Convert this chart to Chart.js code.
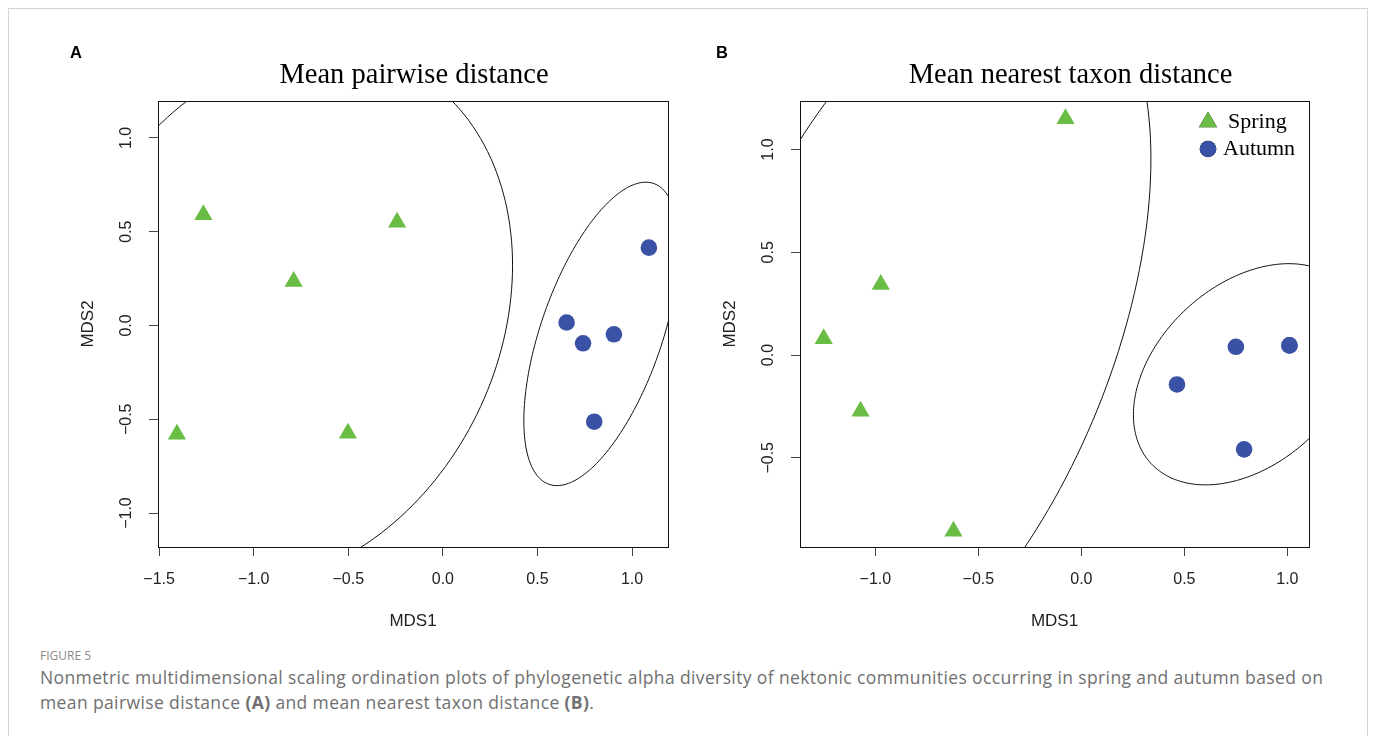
<!DOCTYPE html>
<html lang="en">
<head>
<meta charset="UTF-8">
<title>Figure 5 - NMDS ordination</title>
<style>
  body {
    margin: 0;
    width: 1375px;
    height: 736px;
    overflow: hidden;
    position: relative;
    background: #fff;
  }
  .frame {
    position: absolute;
    left: 8px;
    top: 8px;
    width: 1358px;
    height: 800px;
    border: 1px solid #d4d4d4;
  }
  canvas { position: absolute; top: 0; }
  #chartA { left: 0; }
  #chartB { left: 690px; }
  .fig-label {
    position: absolute;
    left: 40px;
    top: 647px;
    font-family: 'Open Sans', sans-serif;
    font-size: 12px;
    color: #8a8a8a;
  }
  .caption {
    position: absolute;
    left: 40px;
    top: 665px;
    font-family: 'Open Sans', sans-serif;
    font-size: 17.5px;
    letter-spacing: 0.38px;
    line-height: 25px;
    color: #707070;
    white-space: nowrap;
  }
  .caption b { color: #707070; }
</style>
</head>
<body>
<div class="frame"></div>
<canvas id="chartA" width="690" height="640"></canvas>
<canvas id="chartB" width="685" height="640"></canvas>
<div class="fig-label">FIGURE 5</div>
<div class="caption">Nonmetric multidimensional scaling ordination plots of phylogenetic alpha diversity of nektonic communities occurring in spring and autumn based on<br>mean pairwise distance <b>(A)</b> and mean nearest taxon distance <b>(B)</b>.</div>

<script src="https://cdn.jsdelivr.net/npm/chart.js"></script>
<script>
// ---- data (NMDS site scores) ----
// Panel A: mean pairwise distance
const springA_x = [-1.266, -0.789, -0.242, -1.406, -0.502];
const springA_y = [0.590, 0.235, 0.550, -0.580, -0.575];
const autumnA_x = [1.089, 0.654, 0.741, 0.904, 0.800];
const autumnA_y = [0.415, 0.016, -0.095, -0.047, -0.513];

// Panel B: mean nearest taxon distance
// (two autumn sites sit on top of each other at ~(1.01, 0.05))
const springB_x = [-0.077, -0.974, -1.251, -1.072, -0.621];
const springB_y = [1.150, 0.343, 0.079, -0.273, -0.857];
const autumnB_x = [0.464, 0.750, 1.010, 1.010, 0.790];
const autumnB_y = [-0.143, 0.040, 0.047, 0.047, -0.459];

const xTicksA = [-1.5, -1.0, -0.5, 0.0, 0.5, 1.0];
const yTicksA = [-1.0, -0.5, 0.0, 0.5, 1.0];
const xTicksB = [-1.0, -0.5, 0.0, 0.5, 1.0];
const yTicksB = [-0.5, 0.0, 0.5, 1.0];

const seasons = ['Spring', 'Autumn'];

const GREEN = '#69bd45';
const BLUE = '#3a52a5';
const SANS = "'Liberation Sans', Arial, sans-serif";
const SERIF = "'Liberation Serif', 'Times New Roman', serif";

// 95% sd ellipse, like vegan::ordiellipse(kind = "sd", conf = 0.95)
const CHI_SCALE = Math.sqrt(-2 * Math.log(1 - 0.95));

function toPoints(xs, ys) {
  return xs.map((x, i) => ({ x: x, y: ys[i] }));
}

function fmt(v) {
  return v.toFixed(1).replace('-', '\u2212');
}

function ellipsePath(pts) {
  const n = pts.length;
  const mx = pts.reduce((s, p) => s + p.x, 0) / n;
  const my = pts.reduce((s, p) => s + p.y, 0) / n;
  let sxx = 0, syy = 0, sxy = 0;
  pts.forEach(p => {
    sxx += (p.x - mx) ** 2;
    syy += (p.y - my) ** 2;
    sxy += (p.x - mx) * (p.y - my);
  });
  sxx /= n - 1; syy /= n - 1; sxy /= n - 1;
  // cholesky
  const a = Math.sqrt(sxx);
  const b = sxy / a;
  const c = Math.sqrt(syy - b * b);
  const out = [];
  for (let i = 0; i <= 200; i++) {
    const t = i / 200 * 2 * Math.PI;
    const u = Math.cos(t), v = Math.sin(t);
    out.push({ x: mx + CHI_SCALE * u * a, y: my + CHI_SCALE * (u * b + v * c) });
  }
  return out;
}

const ellipsePlugin = {
  id: 'ellipses',
  beforeDatasetsDraw(chart) {
    const { ctx, chartArea, scales } = chart;
    ctx.save();
    ctx.beginPath();
    ctx.rect(chartArea.left, chartArea.top, chartArea.width, chartArea.height);
    ctx.clip();
    ctx.strokeStyle = '#111';
    ctx.lineWidth = 1;
    chart.data.datasets.forEach(ds => {
      const path = ellipsePath(ds.data);
      ctx.beginPath();
      path.forEach((p, i) => {
        const px = scales.x.getPixelForValue(p.x);
        const py = scales.y.getPixelForValue(p.y);
        if (i === 0) ctx.moveTo(px, py); else ctx.lineTo(px, py);
      });
      ctx.stroke();
    });
    ctx.restore();
  }
};

// box, rotated y tick labels, axis titles, main title, panel letter
const decorPlugin = {
  id: 'decor',
  afterDraw(chart, args, opts) {
    const { ctx, chartArea, scales } = chart;
    ctx.save();
    ctx.strokeStyle = '#111';
    ctx.lineWidth = 1;
    ctx.strokeRect(Math.round(chartArea.left) + 0.5, Math.round(chartArea.top) + 0.5,
      Math.round(chartArea.width), Math.round(chartArea.height));

    ctx.fillStyle = '#222';
    ctx.font = '16px ' + SANS;
    ctx.textAlign = 'center';
    ctx.textBaseline = 'middle';
    scales.y.ticks.forEach(t => {
      const py = scales.y.getPixelForValue(t.value);
      ctx.save();
      ctx.translate(chartArea.left - 31, py);
      ctx.rotate(-Math.PI / 2);
      ctx.fillText(fmt(t.value), 0, 0);
      ctx.restore();
    });

    ctx.font = '17px ' + SANS;
    ctx.fillText('MDS1', (chartArea.left + chartArea.right) / 2, chartArea.bottom + 74);
    ctx.save();
    ctx.translate(chartArea.left - 70, (chartArea.top + chartArea.bottom) / 2);
    ctx.rotate(-Math.PI / 2);
    ctx.fillText('MDS2', 0, 0);
    ctx.restore();

    ctx.fillStyle = '#000';
    ctx.font = '28.5px ' + SERIF;
    ctx.textBaseline = 'alphabetic';
    ctx.fillText(opts.title, (chartArea.left + chartArea.right) / 2 + opts.titleShift, 83);

    ctx.font = 'bold 16.5px ' + SANS;
    ctx.textAlign = 'left';
    ctx.fillText(opts.letter, opts.letterX, 58);
    ctx.restore();
  }
};

const legendPlugin = {
  id: 'seasonLegend',
  afterDraw(chart, args, opts) {
    if (!opts.show) return;
    const { ctx, chartArea } = chart;
    ctx.save();
    ctx.font = '22px ' + SERIF;
    ctx.textBaseline = 'middle';
    ctx.textAlign = 'left';
    ctx.fillStyle = '#000';
    chart.data.datasets.forEach((ds, i) => {
      const y = chartArea.top + 21 + i * 27;
      const x = chartArea.right - 101;
      Chart.helpers.drawPoint(ctx, {
        pointStyle: ds.pointStyle, radius: ds.pointRadius, rotation: 0, borderWidth: 0
      }, x, y);
      ctx.fillStyle = ds.backgroundColor;
      ctx.fill();
      ctx.fillStyle = '#000';
      ctx.fillText(ds.label, x + (i === 0 ? 20 : 15), y);
    });
    ctx.restore();
  }
};

function makeChart(id, cfg) {
  const datasets = [
    {
      label: seasons[0],
      data: toPoints(cfg.springX, cfg.springY),
      pointStyle: 'triangle',
      pointRadius: 10.5,
      backgroundColor: GREEN,
      borderWidth: 0
    },
    {
      label: seasons[1],
      data: toPoints(cfg.autumnX, cfg.autumnY),
      pointStyle: 'circle',
      pointRadius: 8.3,
      backgroundColor: BLUE,
      borderWidth: 0
    }
  ];
  return new Chart(document.getElementById(id), {
    type: 'scatter',
    data: { datasets: datasets },
    plugins: [ellipsePlugin, decorPlugin, legendPlugin],
    options: {
      responsive: false,
      animation: false,
      events: [],
      layout: { padding: { left: 0, top: cfg.top, right: cfg.padRight, bottom: 0 } },
      scales: {
        x: {
          type: 'linear',
          min: cfg.xMin, max: cfg.xMax,
          afterBuildTicks: s => { s.ticks = cfg.xTicks.map(v => ({ value: v })); },
          afterFit: s => { s.height = 640 - cfg.bottom; s.paddingLeft = 0; s.paddingRight = 0; },
          grid: { drawOnChartArea: false, drawTicks: true, tickLength: 9, color: '#444' },
          border: { display: false },
          ticks: {
            color: '#222',
            font: { family: SANS, size: 16 },
            padding: 14,
            maxRotation: 0,
            callback: v => fmt(v)
          }
        },
        y: {
          type: 'linear',
          min: cfg.yMin, max: cfg.yMax,
          afterBuildTicks: s => { s.ticks = cfg.yTicks.map(v => ({ value: v })); },
          afterFit: s => { s.width = cfg.left; s.paddingTop = 0; s.paddingBottom = 0; },
          grid: { drawOnChartArea: false, drawTicks: true, tickLength: 9, color: '#444' },
          border: { display: false },
          ticks: { display: false }
        }
      },
      plugins: {
        legend: { display: false },
        tooltip: { enabled: false },
        decor: { title: cfg.title, titleShift: cfg.titleShift, letter: cfg.letter, letterX: cfg.letterX },
        seasonLegend: { show: cfg.legend }
      }
    }
  });
}

makeChart('chartA', {
  title: 'Mean pairwise distance', titleShift: 1, letter: 'A', letterX: 70,
  springX: springA_x, springY: springA_y, autumnX: autumnA_x, autumnY: autumnA_y,
  xTicks: xTicksA, yTicks: yTicksA,
  xMin: -1.506, xMax: 1.19, yMin: -1.181, yMax: 1.197,
  left: 158, top: 101, padRight: 690 - 668, bottom: 547, legend: false
});

makeChart('chartB', {
  title: 'Mean nearest taxon distance', titleShift: 16, letter: 'B', letterX: 26,
  springX: springB_x, springY: springB_y, autumnX: autumnB_x, autumnY: autumnB_y,
  xTicks: xTicksB, yTicks: yTicksB,
  xMin: -1.366, xMax: 1.105, yMin: -0.934, yMax: 1.236,
  left: 110, top: 101, padRight: 685 - 619, bottom: 547, legend: true
});
</script>
</body>
</html>
